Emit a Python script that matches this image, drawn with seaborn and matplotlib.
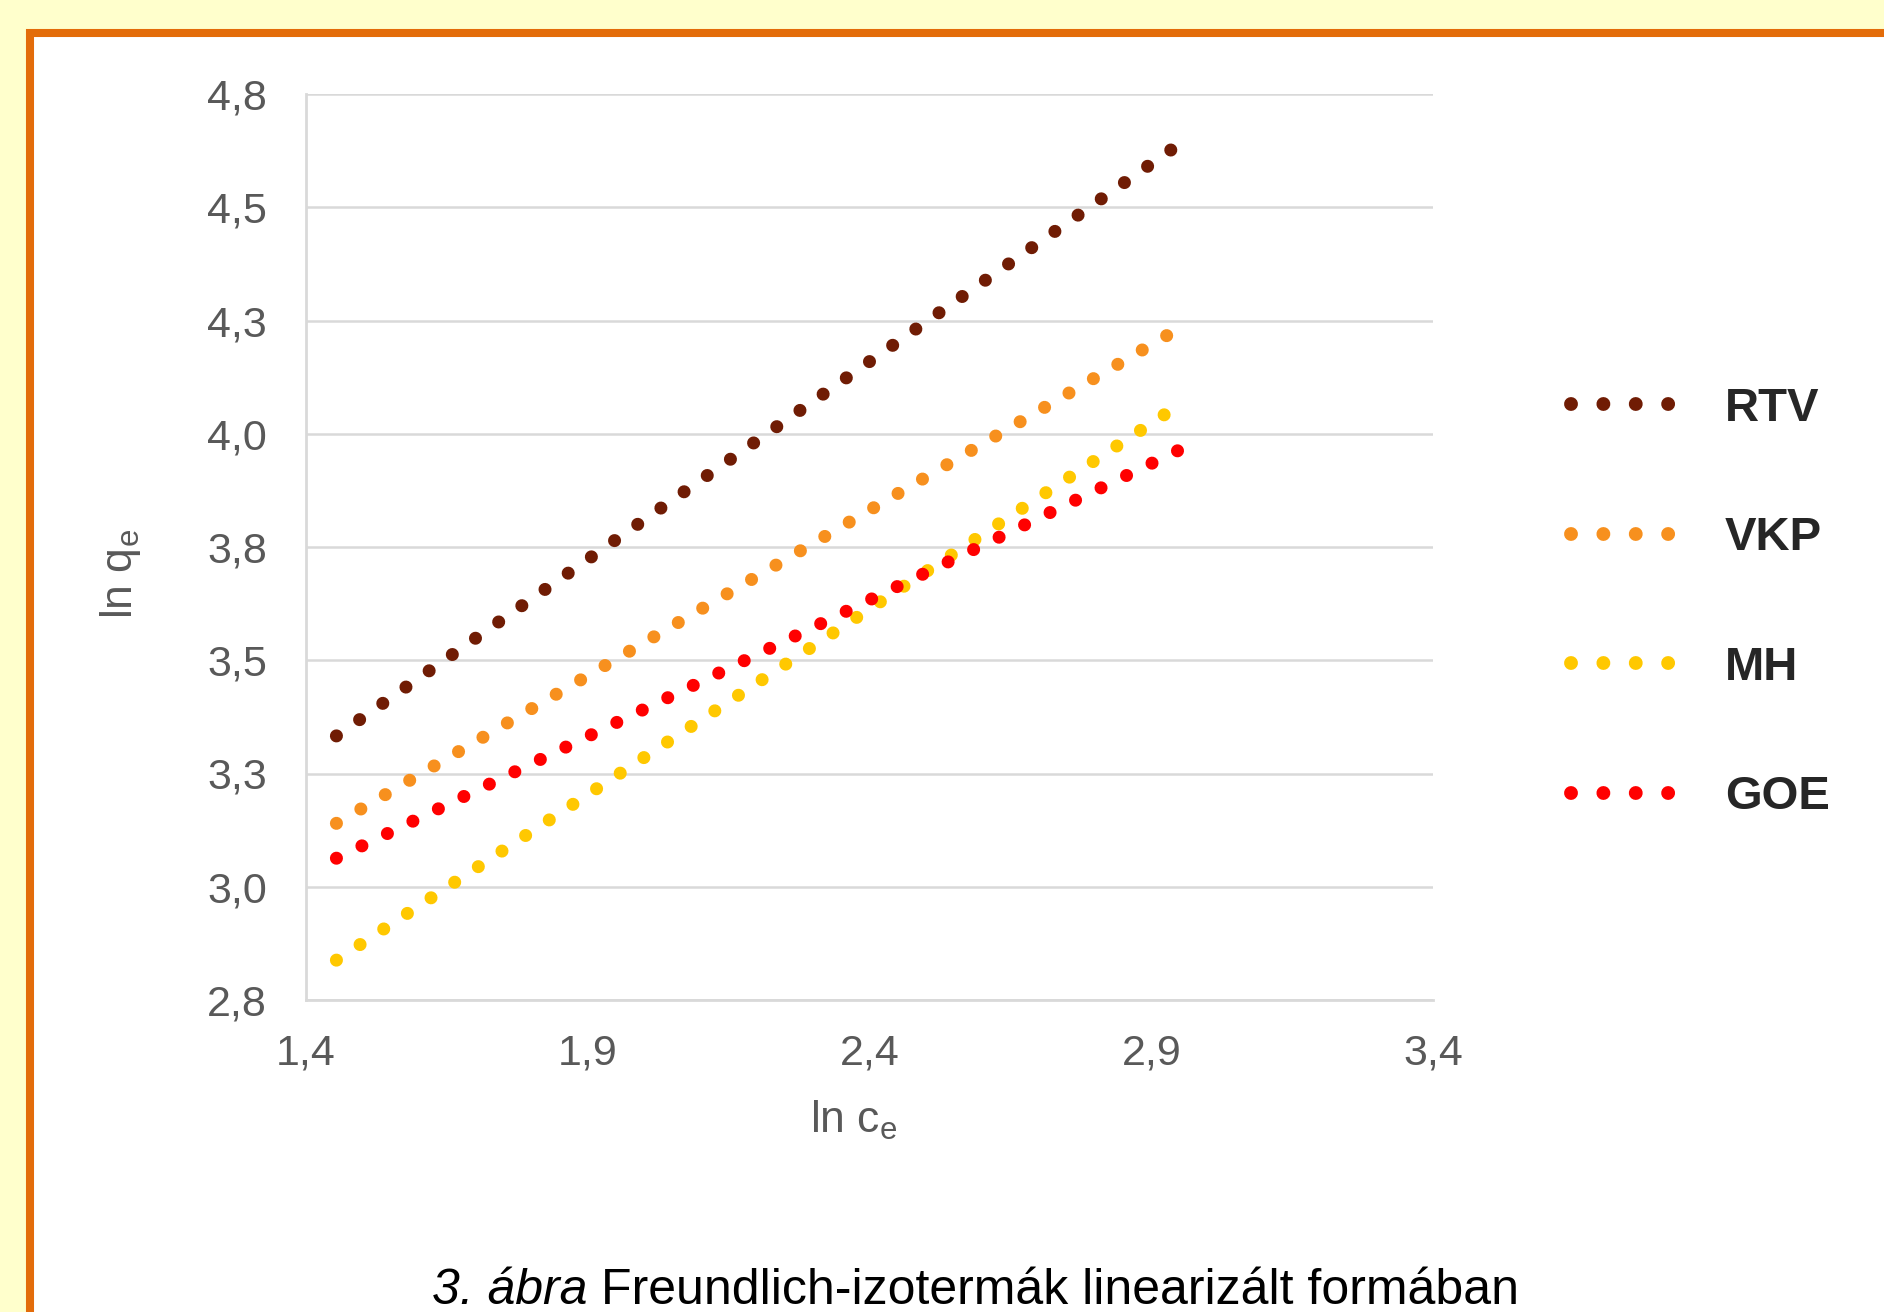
import pandas as pd
import seaborn as sns
import matplotlib.pyplot as plt
from matplotlib.patches import Rectangle
from matplotlib.lines import Line2D
from matplotlib import font_manager

# line ends (ln c_e, ln q_e)
series = ["RTV", "VKP", "MH", "GOE"]
x_rtv = [1.454, 2.940]
y_rtv = [3.333, 4.631]
x_vkp = [1.454, 2.932]
y_vkp = [3.140, 4.220]
x_mh = [1.454, 2.928]
y_mh = [2.838, 4.046]
x_goe = [1.454, 2.951]
y_goe = [3.063, 3.965]
colors = ["#701C04", "#F7901E", "#FFC800", "#FF0000"]

x_ticks = [1.4, 1.9, 2.4, 2.9, 3.4]
x_tick_labels = ["1,4", "1,9", "2,4", "2,9", "3,4"]
y_ticks = [2.75, 3.0, 3.25, 3.5, 3.75, 4.0, 4.25, 4.5, 4.75]
y_tick_labels = ["2,8", "3,0", "3,3", "3,5", "3,8", "4,0", "4,3", "4,5", "4,8"]

xs = [x_rtv, x_vkp, x_mh, x_goe]
ys = [y_rtv, y_vkp, y_mh, y_goe]
df = pd.DataFrame({
    "ln_ce": [v for x in xs for v in x],
    "ln_qe": [v for y in ys for v in y],
    "series": [s for s, x in zip(series, xs) for _ in x],
})

sns.set_style("white")
plt.rcParams["font.family"] = ["Liberation Sans", "DejaVu Sans"]
plt.rcParams["mathtext.fontset"] = "custom"
plt.rcParams["mathtext.rm"] = "Liberation Sans"
plt.rcParams["mathtext.it"] = "Liberation Sans:italic"
plt.rcParams["lines.scale_dashes"] = False

W, H = 1884, 1312
fig = plt.figure(figsize=(W / 100, H / 100), dpi=100, facecolor="#FFFFCC")

# white panel with orange frame, running off the right and bottom edges
frame = Rectangle((30 / W, -0.5), 3, 1 - 33 / H + 0.5, transform=fig.transFigure,
                  facecolor="white", edgecolor="#E36C0A", linewidth=5.8, zorder=-1)
fig.add_artist(frame)

ax = fig.add_axes([306 / W, 1 - 1000 / H, (1433 - 306) / W, (1000 - 94) / H])
ax.set_facecolor("white")

dot = (0, (0.01, 20.38))
sns.lineplot(data=df, x="ln_ce", y="ln_qe", hue="series", hue_order=series,
             palette=colors, legend=False, ax=ax, linewidth=9.4, zorder=3)
for line in ax.lines:
    line.set_linestyle(dot)
    line.set_dash_capstyle("round")

ax.set_xlim(1.4, 3.4)
ax.set_ylim(2.75, 4.75)
ax.set_xticks(x_ticks)
ax.set_xticklabels(x_tick_labels)
ax.set_yticks(y_ticks)
ax.set_yticklabels(y_tick_labels)
ax.tick_params(axis="both", length=0, labelsize=31, colors="#595959")
ax.tick_params(axis="y", pad=28)
ax.tick_params(axis="x", pad=24)
ax.grid(axis="y", color="#D9D9D9", linewidth=1.8)
for side in ["top", "right"]:
    ax.spines[side].set_visible(False)
for side in ["left", "bottom"]:
    ax.spines[side].set_color("#D9D9D9")
    ax.spines[side].set_linewidth(2)

ax.set_xlabel("ln c$_\\mathrm{e}$", fontsize=32, color="#595959", labelpad=18, x=0.486)
ax.set_ylabel("ln q$_\\mathrm{e}$", fontsize=32, color="#595959", labelpad=46, y=0.47)

handles = [Line2D([], [], color=c, linewidth=10, linestyle=(0, (0.01, 23.3)),
                  dash_capstyle="round") for c in colors]
fig.legend(handles, series, loc="center left", bbox_to_anchor=(1571 / W, 1 - 603 / H),
           frameon=False, prop={"size": 34, "weight": "bold"}, handlelength=2.12,
           handletextpad=1.14, labelspacing=1.81, borderpad=0, borderaxespad=0)

names = {f.name for f in font_manager.fontManager.ttflist}
narrow = "Liberation Sans Narrow" in names
cap_font = "Liberation Sans Narrow" if narrow else "Liberation Sans"
cap_size = 40 if narrow else 36
fig.text(432 / W, 1 - 1304 / H, "3. ábra", fontsize=cap_size, family=cap_font,
         style="italic", color="black", ha="left", va="baseline")
fig.text(601 / W, 1 - 1304 / H, "Freundlich-izotermák linearizált formában",
         fontsize=cap_size, family=cap_font, color="black", ha="left", va="baseline")

fig.savefig("out.png", dpi=100, facecolor=fig.get_facecolor())
